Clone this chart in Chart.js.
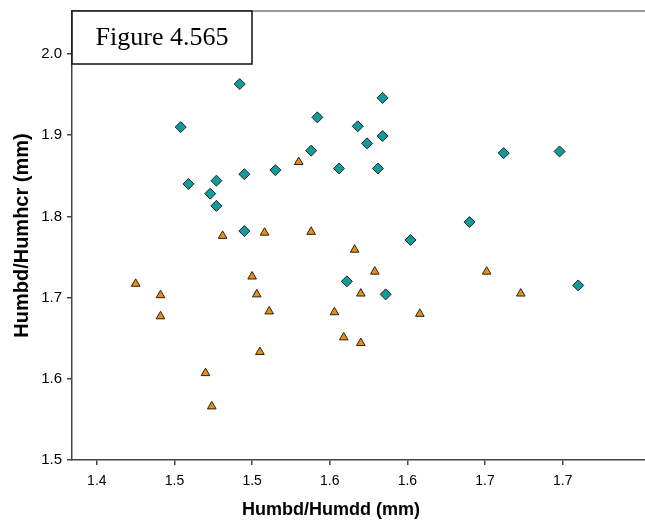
<!DOCTYPE html>
<html>
<head>
<meta charset="utf-8">
<script src="https://cdn.jsdelivr.net/npm/chart.js@4/dist/chart.umd.min.js"></script>
<style>
  body { margin: 0; background: #fff; }
  canvas { display: block; }
</style>
</head>
<body>
<canvas id="scatterChart" width="645" height="527"></canvas>
<script>
// teal diamonds
const tealX = [1.492, 1.454, 1.542, 1.584, 1.568, 1.584, 1.574, 1.538, 1.556, 1.581, 1.662, 1.698,
  1.459, 1.477, 1.495, 1.515, 1.473, 1.477, 1.495, 1.640, 1.602, 1.561, 1.586, 1.710];
const tealY = [1.963, 1.910, 1.922, 1.946, 1.911, 1.899, 1.890, 1.881, 1.859, 1.859, 1.878, 1.880,
  1.840, 1.844, 1.852, 1.857, 1.828, 1.813, 1.782, 1.793, 1.771, 1.720, 1.704, 1.715];

// orange triangles
const orangeX = [1.530, 1.481, 1.508, 1.538, 1.566, 1.579, 1.570, 1.553, 1.608, 1.559, 1.570,
  1.651, 1.673, 1.425, 1.441, 1.441, 1.500, 1.503, 1.511, 1.505, 1.470, 1.474];
const orangeY = [1.867, 1.776, 1.780, 1.781, 1.759, 1.732, 1.705, 1.682, 1.680, 1.651, 1.644,
  1.732, 1.705, 1.717, 1.703, 1.677, 1.726, 1.704, 1.683, 1.633, 1.607, 1.566];

const xTickValues = [1.40, 1.45, 1.50, 1.55, 1.60, 1.65, 1.70];
const xTickLabels = ["1.4", "1.5", "1.5", "1.6", "1.6", "1.7", "1.7"];
const yTickValues = [1.5, 1.6, 1.7, 1.8, 1.9, 2.0];
const yTickLabels = ["1.5", "1.6", "1.7", "1.8", "1.9", "2.0"];

const figureLabel = "Figure 4.565";
const xTitle = "Humbd/Humdd (mm)";
const yTitle = "Humbd/Humhcr (mm)";

const toPoints = (xs, ys) => xs.map((x, i) => ({ x, y: ys[i] }));

const axisColor = "#444";
const sans = "'Liberation Sans', Arial, sans-serif";
const tickFont = { family: sans, size: 14 };

// top frame line, figure label box and the x axis title
const figureBox = {
  id: "figureBox",
  afterDraw(chart) {
    const { ctx, chartArea } = chart;
    ctx.save();
    ctx.strokeStyle = "#999";
    ctx.lineWidth = 2;
    ctx.beginPath();
    ctx.moveTo(chartArea.left, chartArea.top);
    ctx.lineTo(chartArea.right, chartArea.top);
    ctx.stroke();

    const bx = chartArea.left, by = chartArea.top, bw = 180, bh = 53;
    ctx.fillStyle = "#fff";
    ctx.fillRect(bx, by, bw, bh);
    ctx.strokeStyle = "#111";
    ctx.lineWidth = 1.5;
    ctx.strokeRect(bx, by, bw, bh);

    ctx.fillStyle = "#000";
    ctx.font = "26px 'Liberation Serif', 'Times New Roman', serif";
    ctx.textAlign = "center";
    ctx.textBaseline = "middle";
    ctx.fillText(figureLabel, bx + bw / 2, by + bh / 2 + 1);

    // x title sits a bit left of the plot centre in the original
    ctx.font = "bold 18px " + sans;
    ctx.fillText(xTitle, 331, 510);
    ctx.restore();
  },
};

const ctx = document.getElementById("scatterChart").getContext("2d");

new Chart(ctx, {
  type: "scatter",
  data: {
    datasets: [
      {
        label: "A",
        data: toPoints(tealX, tealY),
        pointStyle: "rectRot",
        pointRadius: 5.5,
        backgroundColor: "#129b9b",
        borderColor: "#222",
        borderWidth: 1,
      },
      {
        label: "B",
        data: toPoints(orangeX, orangeY),
        pointStyle: "triangle",
        pointRadius: 5,
        backgroundColor: "#ee8d0c",
        borderColor: "#222",
        borderWidth: 1,
      },
    ],
  },
  options: {
    responsive: false,
    animation: false,
    layout: { autoPadding: false, padding: { top: 11, right: 0, left: 0, bottom: 0 } },
    plugins: {
      legend: { display: false },
      tooltip: { enabled: false },
    },
    scales: {
      x: {
        type: "linear",
        min: 1.384,
        max: 1.753,
        afterBuildTicks: (scale) => {
          scale.ticks = xTickValues.map((value) => ({ value }));
        },
        afterFit: (scale) => {
          scale.height = 67;
          scale.paddingLeft = 0;
          scale.paddingRight = 0;
        },
        border: { display: true, color: axisColor, width: 1.5 },
        grid: { drawOnChartArea: false, drawTicks: true, tickLength: 5, color: axisColor, lineWidth: 1.5 },
        ticks: {
          color: "#000",
          font: tickFont,
          padding: 8,
          maxRotation: 0,
          autoSkip: false,
          callback: (v, i) => xTickLabels[i],
        },
      },
      y: {
        type: "linear",
        min: 1.5,
        max: 2.053,
        afterBuildTicks: (scale) => {
          scale.ticks = yTickValues.map((value) => ({ value }));
        },
        afterFit: (scale) => {
          scale.width = 72;
          scale.paddingTop = 0;
          scale.paddingBottom = 0;
        },
        border: { display: true, color: axisColor, width: 1.5 },
        grid: { drawOnChartArea: false, drawTicks: true, tickLength: 5, color: axisColor, lineWidth: 1.5 },
        ticks: {
          color: "#000",
          font: { family: sans, size: 15 },
          padding: 5,
          autoSkip: false,
          callback: (v, i) => yTickLabels[i],
        },
        title: {
          display: true,
          text: yTitle,
          color: "#000",
          font: { family: sans, size: 20, weight: "bold" },
          padding: { top: 10, bottom: 0 },
        },
      },
    },
  },
  plugins: [figureBox],
});
</script>
</body>
</html>
